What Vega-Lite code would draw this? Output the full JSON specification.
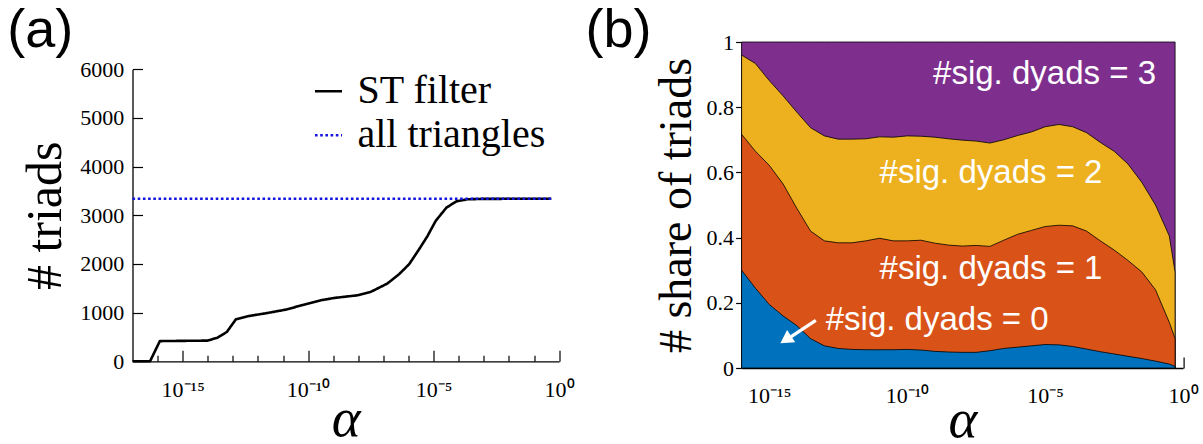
{
  "$schema": "https://vega.github.io/schema/vega-lite/v6.json",
  "background": "white",
  "padding": {"left": 6.5, "top": 3, "right": 0, "bottom": 0},
  "config": {
    "view": {"stroke": null},
    "axis": {"grid": false, "domainColor": "black", "tickColor": "black", "labelColor": "black", "titleColor": "black"},
    "title": {"color": "black"}
  },
  "datasets": {
    "triads": [
      {"alpha": 1e-17, "triads": 0, "series": "ST filter"},
      {"alpha": 5.0e-17, "triads": 0, "series": "ST filter"},
      {"alpha": 1.23e-16, "triads": 415, "series": "ST filter"},
      {"alpha": 1e-15, "triads": 420, "series": "ST filter"},
      {"alpha": 9.8e-15, "triads": 425, "series": "ST filter"},
      {"alpha": 2.45e-14, "triads": 486, "series": "ST filter"},
      {"alpha": 5.75e-14, "triads": 603, "series": "ST filter"},
      {"alpha": 1.32e-13, "triads": 863, "series": "ST filter"},
      {"alpha": 3.8e-13, "triads": 925, "series": "ST filter"},
      {"alpha": 2.4e-12, "triads": 993, "series": "ST filter"},
      {"alpha": 1.29e-11, "triads": 1062, "series": "ST filter"},
      {"alpha": 6.9e-11, "triads": 1164, "series": "ST filter"},
      {"alpha": 3.16e-10, "triads": 1253, "series": "ST filter"},
      {"alpha": 1.07e-9, "triads": 1301, "series": "ST filter"},
      {"alpha": 9.1e-9, "triads": 1356, "series": "ST filter"},
      {"alpha": 3.09e-8, "triads": 1425, "series": "ST filter"},
      {"alpha": 1.41e-7, "triads": 1596, "series": "ST filter"},
      {"alpha": 4.17e-7, "triads": 1788, "series": "ST filter"},
      {"alpha": 1.05e-6, "triads": 1993, "series": "ST filter"},
      {"alpha": 2.63e-6, "triads": 2301, "series": "ST filter"},
      {"alpha": 5.62e-6, "triads": 2568, "series": "ST filter"},
      {"alpha": 1.2e-5, "triads": 2883, "series": "ST filter"},
      {"alpha": 3.24e-5, "triads": 3158, "series": "ST filter"},
      {"alpha": 8.13e-5, "triads": 3288, "series": "ST filter"},
      {"alpha": 2.24e-4, "triads": 3329, "series": "ST filter"},
      {"alpha": 1e-3, "triads": 3338, "series": "ST filter"},
      {"alpha": 0.49, "triads": 3340, "series": "ST filter"},
      {"alpha": 1e-17, "triads": 3340, "series": "all triangles"},
      {"alpha": 0.49, "triads": 3340, "series": "all triangles"}
    ],
    "shares": [
      {"alpha": 1e-16, "b1": 0.300, "b2": 0.717, "b3": 0.960},
      {"alpha": 3.162e-16, "b1": 0.245, "b2": 0.665, "b3": 0.934},
      {"alpha": 1e-15, "b1": 0.195, "b2": 0.622, "b3": 0.882},
      {"alpha": 3.162e-15, "b1": 0.160, "b2": 0.565, "b3": 0.835},
      {"alpha": 1e-14, "b1": 0.130, "b2": 0.490, "b3": 0.785},
      {"alpha": 3.162e-14, "b1": 0.090, "b2": 0.420, "b3": 0.737},
      {"alpha": 1e-13, "b1": 0.068, "b2": 0.390, "b3": 0.712},
      {"alpha": 3.162e-13, "b1": 0.060, "b2": 0.384, "b3": 0.702},
      {"alpha": 1e-12, "b1": 0.057, "b2": 0.384, "b3": 0.702},
      {"alpha": 3.162e-12, "b1": 0.056, "b2": 0.390, "b3": 0.703},
      {"alpha": 1e-11, "b1": 0.056, "b2": 0.398, "b3": 0.709},
      {"alpha": 3.162e-11, "b1": 0.056, "b2": 0.390, "b3": 0.708},
      {"alpha": 1e-10, "b1": 0.057, "b2": 0.390, "b3": 0.712},
      {"alpha": 3.162e-10, "b1": 0.055, "b2": 0.392, "b3": 0.711},
      {"alpha": 1e-9, "b1": 0.051, "b2": 0.383, "b3": 0.708},
      {"alpha": 3.162e-9, "b1": 0.049, "b2": 0.377, "b3": 0.703},
      {"alpha": 1e-8, "b1": 0.048, "b2": 0.374, "b3": 0.699},
      {"alpha": 3.162e-8, "b1": 0.048, "b2": 0.376, "b3": 0.696},
      {"alpha": 1e-7, "b1": 0.053, "b2": 0.373, "b3": 0.690},
      {"alpha": 3.162e-7, "b1": 0.060, "b2": 0.392, "b3": 0.700},
      {"alpha": 1e-6, "b1": 0.064, "b2": 0.410, "b3": 0.713},
      {"alpha": 3.162e-6, "b1": 0.068, "b2": 0.422, "b3": 0.724},
      {"alpha": 1e-5, "b1": 0.072, "b2": 0.434, "b3": 0.740},
      {"alpha": 3.162e-5, "b1": 0.071, "b2": 0.438, "b3": 0.747},
      {"alpha": 1e-4, "b1": 0.066, "b2": 0.436, "b3": 0.740},
      {"alpha": 3.162e-4, "b1": 0.058, "b2": 0.420, "b3": 0.722},
      {"alpha": 1e-3, "b1": 0.050, "b2": 0.390, "b3": 0.692},
      {"alpha": 3.162e-3, "b1": 0.043, "b2": 0.362, "b3": 0.665},
      {"alpha": 1e-2, "b1": 0.036, "b2": 0.330, "b3": 0.626},
      {"alpha": 3.162e-2, "b1": 0.029, "b2": 0.295, "b3": 0.570},
      {"alpha": 0.1, "b1": 0.021, "b2": 0.240, "b3": 0.500},
      {"alpha": 0.3162, "b1": 0.012, "b2": 0.140, "b3": 0.405},
      {"alpha": 0.5129, "b1": 0.005, "b2": 0.090, "b3": 0.294}
    ],
    "labels": [
      {"alpha": 8.7e-10, "v": 0.901, "label": "#sig. dyads = 3"},
      {"alpha": 1e-11, "v": 0.599, "label": "#sig. dyads = 2"},
      {"alpha": 1e-11, "v": 0.305, "label": "#sig. dyads = 1"},
      {"alpha": 1.12e-13, "v": 0.147, "label": "#sig. dyads = 0"}
    ],
    "arrow": [
      {"tailAlpha": 4.9e-14, "tailV": 0.146, "endAlpha": 5.0e-15, "endV": 0.091, "headAlpha": 3.98e-15, "headV": 0.087}
    ]
  },
  "spacing": 11.1,
  "hconcat": [
    {
      "width": 426.6,
      "height": 319.3,
      "title": {"text": "(a)", "anchor": "start", "frame": "group", "dx": -125.2, "offset": -59.3, "fontSize": 54, "font": "Liberation Sans", "fontWeight": "normal", "baseline": "alphabetic"},
      "resolve": {"axis": {"x": "independent", "y": "independent"}},
      "layer": [
        {
          "data": {"name": "triads"},
          "transform": [{"filter": "datum.series === 'ST filter'"}],
          "mark": {"type": "line", "strokeWidth": 2.6, "strokeJoin": "round"},
          "encoding": {
            "x": {"field": "alpha", "type": "quantitative",
              "scale": {"type": "log", "domain": [1e-17, 1], "nice": false},
              "axis": {"orient": "bottom", "values": [1e-16, 1e-14, 1e-13, 1e-12, 1e-11, 1e-9, 1e-8, 1e-7, 1e-6, 1e-4, 1e-3, 1e-2, 1e-1], "labels": false, "tickSize": -6, "tickWidth": 1.2, "domainWidth": 1.3, "title": null}},
            "y": {"field": "triads", "type": "quantitative",
              "scale": {"domain": [0, 6000], "nice": false, "range": [319.3, 27.3]},
              "axis": {"orient": "left", "values": [0, 1000, 2000, 3000, 4000, 5000, 6000], "format": "d", "tickSize": -10, "tickWidth": 1.2, "domainWidth": 1.3, "labelPadding": 18.7, "labelFont": "Liberation Serif", "labelFontSize": 22, "title": "# triads", "titleFont": "Liberation Serif", "titleFontSize": 50, "titleFontWeight": "normal", "titlePadding": 9, "titleY": 173.3}},
            "color": {"field": "series", "type": "nominal",
              "scale": {"domain": ["ST filter", "all triangles"], "range": ["#000000", "#1515e0"]},
              "legend": {"orient": "none", "legendX": 176, "legendY": 29.3, "title": null, "labelFont": "Liberation Serif", "labelFontSize": 40, "labelColor": "black", "labelLimit": 400, "symbolType": "stroke", "symbolSize": 729, "symbolStrokeWidth": 2.6, "labelOffset": 9, "rowPadding": 4, "padding": 0}},
            "strokeDash": {"field": "series", "type": "nominal",
              "scale": {"domain": ["ST filter", "all triangles"], "range": [[1, 0], [2.6, 2.6]]},
              "legend": {"orient": "none", "legendX": 176, "legendY": 29.3, "title": null, "labelFont": "Liberation Serif", "labelFontSize": 40, "labelColor": "black", "labelLimit": 400, "symbolType": "stroke", "symbolSize": 729, "symbolStrokeWidth": 2.6, "labelOffset": 9, "rowPadding": 4, "padding": 0}}
          }
        },
        {
          "data": {"name": "triads"},
          "transform": [{"filter": "datum.series === 'all triangles'"}],
          "mark": {"type": "line", "strokeWidth": 2.6},
          "encoding": {
            "x": {"field": "alpha", "type": "quantitative",
              "scale": {"type": "log", "domain": [1e-17, 1], "nice": false},
              "axis": {"orient": "bottom", "values": [1e-15, 1e-10, 1e-5, 1], "domain": false, "tickSize": -11, "tickWidth": 1.2, "labelPadding": 29, "labelFlush": false, "labelFont": "Liberation Serif", "labelFontSize": 22,
                "labelExpr": "round(log(datum.value)/LN10) == -15 ? '10⁻¹⁵' : round(log(datum.value)/LN10) == -10 ? '10⁻¹⁰' : round(log(datum.value)/LN10) == -5 ? '10⁻⁵' : '10⁰'",
                "title": "α", "titleFont": "Liberation Serif", "titleFontStyle": "italic", "titleFontSize": 55, "titleFontWeight": "normal", "titlePadding": -8}},
            "y": {"field": "triads", "type": "quantitative", "scale": {"domain": [0, 6000], "nice": false, "range": [319.3, 27.3]}, "axis": null},
            "color": {"field": "series", "type": "nominal", "scale": {"domain": ["ST filter", "all triangles"], "range": ["#000000", "#1515e0"]}},
            "strokeDash": {"field": "series", "type": "nominal", "scale": {"domain": ["ST filter", "all triangles"], "range": [[1, 0], [2.6, 2.6]]}}
          }
        }
      ]
    },
    {
      "width": 441.5,
      "height": 326,
      "title": {"text": "(b)", "anchor": "start", "frame": "group", "dx": -156, "offset": -69.8, "fontSize": 54, "font": "Liberation Sans", "fontWeight": "normal", "baseline": "alphabetic"},
      "resolve": {"axis": {"x": "independent", "y": "independent"}},
      "layer": [
        {
          "data": {"name": "shares"},
          "mark": {"type": "area", "color": "#7E2F8E", "stroke": "black", "strokeWidth": 0.8, "opacity": 1},
          "encoding": {
            "x": {"field": "alpha", "type": "quantitative",
              "scale": {"type": "log", "domain": [1e-16, 1], "nice": false},
              "axis": {"orient": "bottom", "values": [1e-15, 1e-10, 1e-5, 1], "domain": true, "domainWidth": 1.3, "tickSize": -11, "tickWidth": 1.2, "labelPadding": 28, "labelFlush": false, "labelFont": "Liberation Serif", "labelFontSize": 22,
                "labelExpr": "round(log(datum.value)/LN10) == -15 ? '10⁻¹⁵' : round(log(datum.value)/LN10) == -10 ? '10⁻¹⁰' : round(log(datum.value)/LN10) == -5 ? '10⁻⁵' : '10⁰'",
                "title": "α", "titleFont": "Liberation Serif", "titleFontStyle": "italic", "titleFontSize": 55, "titleFontWeight": "normal", "titlePadding": -13}},
            "y": {"datum": 1, "type": "quantitative",
              "scale": {"domain": [0, 1], "nice": false},
              "axis": {"orient": "left", "values": [0, 0.2, 0.4, 0.6, 0.8, 1], "format": "~g", "tickSize": 6, "tickWidth": 1.2, "domainColor": "#888888", "domainWidth": 2.2, "labelPadding": 2, "labelFont": "Liberation Serif", "labelFontSize": 22, "title": "# share of triads", "titleFont": "Liberation Serif", "titleFontSize": 46, "titleFontWeight": "normal", "titlePadding": 6}}
          }
        },
        {
          "data": {"name": "shares"},
          "mark": {"type": "area", "color": "#EDB120", "stroke": "black", "strokeWidth": 0.8, "opacity": 1},
          "encoding": {
            "x": {"field": "alpha", "type": "quantitative",
              "scale": {"type": "log", "domain": [1e-16, 1], "nice": false},
              "axis": {"orient": "bottom", "values": [1e-14, 1e-13, 1e-12, 1e-11, 1e-9, 1e-8, 1e-7, 1e-6, 1e-4, 1e-3, 1e-2, 1e-1], "labels": false, "domain": false, "tickSize": -6, "tickWidth": 1.2, "title": null}},
            "y": {"field": "b3", "type": "quantitative", "stack": null, "scale": {"domain": [0, 1], "nice": false}, "axis": null}
          }
        },
        {
          "data": {"name": "shares"},
          "mark": {"type": "area", "color": "#D95319", "stroke": "black", "strokeWidth": 0.8, "opacity": 1},
          "encoding": {
            "x": {"field": "alpha", "type": "quantitative", "scale": {"type": "log", "domain": [1e-16, 1], "nice": false}, "axis": null},
            "y": {"field": "b2", "type": "quantitative", "stack": null, "scale": {"domain": [0, 1], "nice": false}, "axis": null}
          }
        },
        {
          "data": {"name": "shares"},
          "mark": {"type": "area", "color": "#0072BD", "stroke": "black", "strokeWidth": 0.8, "opacity": 1},
          "encoding": {
            "x": {"field": "alpha", "type": "quantitative", "scale": {"type": "log", "domain": [1e-16, 1], "nice": false}, "axis": null},
            "y": {"field": "b1", "type": "quantitative", "stack": null, "scale": {"domain": [0, 1], "nice": false}, "axis": null}
          }
        },
        {
          "data": {"name": "labels"},
          "mark": {"type": "text", "align": "left", "baseline": "middle", "font": "Liberation Sans", "fontSize": 33, "color": "white"},
          "encoding": {
            "x": {"field": "alpha", "type": "quantitative", "scale": {"type": "log", "domain": [1e-16, 1], "nice": false}, "axis": null},
            "y": {"field": "v", "type": "quantitative", "scale": {"domain": [0, 1], "nice": false}, "axis": null},
            "text": {"field": "label"}
          }
        },
        {
          "data": {"name": "arrow"},
          "mark": {"type": "rule", "color": "white", "strokeWidth": 3.3},
          "encoding": {
            "x": {"field": "tailAlpha", "type": "quantitative", "scale": {"type": "log", "domain": [1e-16, 1], "nice": false}, "axis": null},
            "y": {"field": "tailV", "type": "quantitative", "scale": {"domain": [0, 1], "nice": false}, "axis": null},
            "x2": {"field": "endAlpha"},
            "y2": {"field": "endV"}
          }
        },
        {
          "data": {"name": "arrow"},
          "mark": {"type": "point", "shape": "triangle-up", "filled": true, "color": "white", "opacity": 1, "size": 220, "angle": 237},
          "encoding": {
            "x": {"field": "headAlpha", "type": "quantitative", "scale": {"type": "log", "domain": [1e-16, 1], "nice": false}, "axis": null},
            "y": {"field": "headV", "type": "quantitative", "scale": {"domain": [0, 1], "nice": false}, "axis": null}
          }
        }
      ]
    }
  ]
}
